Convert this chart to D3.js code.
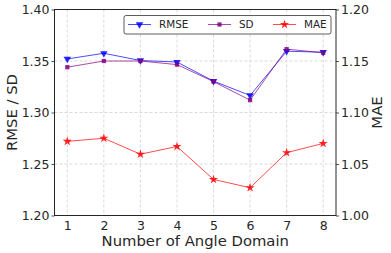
<!DOCTYPE html>
<html>
<head>
<meta charset="utf-8">
<script src="https://cdn.jsdelivr.net/npm/d3@7"></script>
<style>
  body { margin: 0; background: #fff; }
  text { font-family: "DejaVu Sans", sans-serif; fill: #262626; }
</style>
</head>
<body>
<div id="chart"></div>
<script>
// values
var domains = [1, 2, 3, 4, 5, 6, 7, 8];
var rmse = [1.352, 1.3575, 1.3505, 1.349, 1.3305, 1.3165, 1.3595, 1.3585];
var sd = [1.344, 1.350, 1.350, 1.3465, 1.330, 1.312, 1.3615, 1.358];
var mae = [1.072, 1.075, 1.0595, 1.067, 1.035, 1.027, 1.061, 1.070];
var leftTicks = [1.20, 1.25, 1.30, 1.35, 1.40];
var rightTicks = [1.00, 1.05, 1.10, 1.15, 1.20];

var W = 391, H = 253;
var plotL = 54.5, plotR = 336, plotT = 9.5, plotB = 215.5; // axes box in pixels

var svg = d3.select("#chart").append("svg")
    .attr("width", W)
    .attr("height", H);

var x = d3.scaleLinear().domain([0.65, 8.35]).range([plotL, plotR]);
var yL = d3.scaleLinear().domain([1.20, 1.40]).range([plotB, plotT]);
var yR = d3.scaleLinear().domain([1.00, 1.20]).range([plotB, plotT]);

// grid, dashed light grey
svg.append("g").selectAll("line")
    .data(domains)
    .enter().append("line")
    .attr("x1", d => x(d)).attr("x2", d => x(d))
    .attr("y1", plotT).attr("y2", plotB)
    .attr("stroke", "#d0d0d0").attr("stroke-width", 0.8)
    .attr("stroke-dasharray", "3,2");
svg.append("g").selectAll("line")
    .data(leftTicks)
    .enter().append("line")
    .attr("x1", plotL).attr("x2", plotR)
    .attr("y1", d => yL(d)).attr("y2", d => yL(d))
    .attr("stroke", "#d0d0d0").attr("stroke-width", 0.8)
    .attr("stroke-dasharray", "3,2");

// axes
var fmt = d3.format(".2f");
var axL = svg.append("g").attr("transform", "translate(" + plotL + ",0)")
    .call(d3.axisLeft(yL).tickValues(leftTicks).tickFormat(fmt).tickSize(3).tickPadding(2));
var axR = svg.append("g").attr("transform", "translate(" + plotR + ",0)")
    .call(d3.axisRight(yR).tickValues(rightTicks).tickFormat(fmt).tickSize(3).tickPadding(2));
var axB = svg.append("g").attr("transform", "translate(0," + plotB + ")")
    .call(d3.axisBottom(x).tickValues(domains).tickFormat(d3.format("d")).tickSize(0).tickPadding(4));
[axL, axR, axB].forEach(function(a) {
    a.select(".domain").remove();
    a.selectAll("line").attr("stroke", "#262626").attr("stroke-width", 0.8);
    a.selectAll("text").style("font-size", "12.5px").attr("fill", "#2a2a2a")
        .style("font-family", "DejaVu Sans, sans-serif");
});
axB.selectAll("text").attr("dy", "0.8em");

// frame
svg.append("rect")
    .attr("x", plotL).attr("y", plotT)
    .attr("width", plotR - plotL).attr("height", plotB - plotT)
    .attr("fill", "none").attr("stroke", "#262626").attr("stroke-width", 1);

// series
var series = [
    {name: "RMSE", values: rmse, y: yL, color: "#0000ff", shape: "tri"},
    {name: "SD", values: sd, y: yL, color: "#800080", shape: "sq"},
    {name: "MAE", values: mae, y: yR, color: "#ff0000", shape: "star"}
];

function markerPath(shape) {
    if (shape === "tri") return d3.symbol().type(d3.symbolTriangle).size(24)();
    if (shape === "sq") return d3.symbol().type(d3.symbolSquare).size(18)();
    return d3.symbol().type(d3.symbolStar).size(26)();
}

series.forEach(function(s) {
    var line = d3.line()
        .x((d, i) => x(domains[i]))
        .y(d => s.y(d));
    svg.append("path")
        .datum(s.values)
        .attr("d", line)
        .attr("fill", "none")
        .attr("stroke", s.color)
        .attr("stroke-opacity", 0.7)
        .attr("stroke-width", 1);
    svg.append("g").selectAll("path")
        .data(s.values)
        .enter().append("path")
        .attr("d", markerPath(s.shape))
        .attr("transform", function(d, i) {
            var rot = s.shape === "tri" ? " rotate(180)" : "";
            return "translate(" + x(domains[i]) + "," + s.y(d) + ")" + rot;
        })
        .attr("fill", s.color)
        .attr("fill-opacity", 0.85);
});

// legend
var lg = svg.append("g");
lg.append("rect")
    .attr("x", 124).attr("y", 15.5)
    .attr("width", 207).attr("height", 18.5)
    .attr("rx", 2)
    .attr("fill", "#fff").attr("stroke", "#333").attr("stroke-width", 0.8);
var legendX = [128, 208, 273];
series.forEach(function(s, i) {
    var g = lg.append("g").attr("transform", "translate(" + legendX[i] + ",24.5)");
    g.append("line").attr("x1", 0).attr("x2", 23)
        .attr("stroke", s.color).attr("stroke-opacity", 0.7).attr("stroke-width", 1);
    g.append("path")
        .attr("d", markerPath(s.shape))
        .attr("transform", "translate(11.5,0)" + (s.shape === "tri" ? " rotate(180)" : ""))
        .attr("fill", s.color).attr("fill-opacity", 0.85);
    g.append("text")
        .attr("x", 31).attr("y", 0).attr("dy", "0.35em")
        .style("font-size", "10.4px")
        .text(s.name);
});

// axis labels
svg.append("text")
    .attr("x", (plotL + plotR) / 2).attr("y", 245.5)
    .attr("text-anchor", "middle")
    .style("font-size", "14.8px")
    .text("Number of Angle Domain");
svg.append("text")
    .attr("transform", "translate(16.5," + (plotT + plotB) / 2 + ") rotate(-90)")
    .attr("text-anchor", "middle")
    .style("font-size", "14.8px")
    .text("RMSE / SD");
svg.append("text")
    .attr("transform", "translate(381.5," + (plotT + plotB) / 2 + ") rotate(-90)")
    .attr("text-anchor", "middle")
    .style("font-size", "14.8px")
    .text("MAE");
</script>
</body>
</html>
